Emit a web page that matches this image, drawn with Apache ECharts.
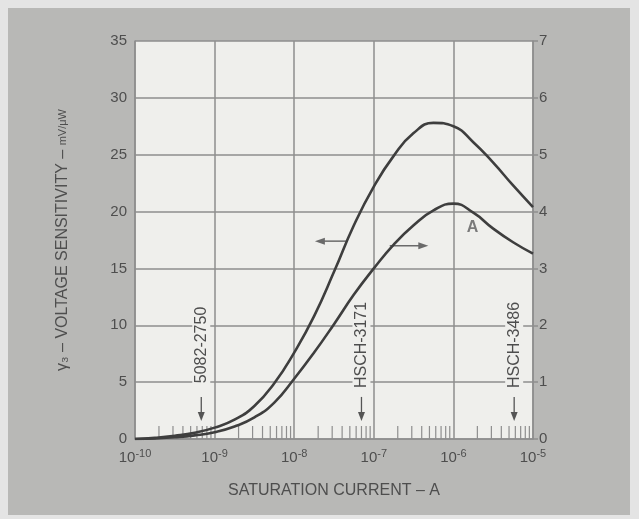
<!DOCTYPE html>
<html><head><meta charset="utf-8">
<script src="https://cdn.jsdelivr.net/npm/echarts@6/dist/echarts.min.js"></script>
<style>html,body{margin:0;padding:0;background:#e4e4e4}#c{width:639px;height:519px}</style>
</head><body><div id="c"></div>
<script>
// x positions: log10 of saturation current (A)
const logCurrent = [-10,-9.75,-9.5,-9.25,-9,-8.75,-8.5,-8.25,-8,-7.75,-7.5,-7.25,-7,-6.75,-6.5,-6.25,-6,-5.75,-5.5,-5.25,-5];
// upper curve, read on left axis (mV/μW)
const sensLeft = [0,0.1,0.28,0.55,1.0,1.7,2.9,4.9,7.6,10.8,14.7,18.8,22.2,24.9,26.9,27.8,27.5,26.1,24.3,22.3,20.4];
// curve A, read on right axis
const sensRightA = [0,0.01,0.03,0.064,0.12,0.22,0.38,0.64,1.06,1.52,2.02,2.54,3.0,3.42,3.76,4.02,4.14,3.98,3.7,3.46,3.26];
const leftTicks = [0,5,10,15,20,25,30,35];
const rightTicks = [0,1,2,3,4,5,6,7];
const decadeExps = [-10,-9,-8,-7,-6,-5];
const minorMultipliers = [2,3,4,5,6,7,8,9];
const deviceNames = ['5082-2750','HSCH-3171','HSCH-3486'];
const deviceCurrents = [6.8e-10, 7e-8, 5.8e-6];

const FONT = '"Liberation Sans", Arial, Helvetica, sans-serif';
const INK = '#4e4e4e';
const GRID = '#8e8e8e';
const PLOT_BG = '#efefec';

const upper = logCurrent.map((e,i)=>[Math.pow(10,e), sensLeft[i]]);
const lower = logCurrent.map((e,i)=>[Math.pow(10,e), sensRightA[i]]);
const minorTicks = [];
decadeExps.slice(0,-1).forEach(d=>minorMultipliers.forEach(m=>minorTicks.push([m*Math.pow(10,d),0])));

const chart = echarts.init(document.getElementById('c'), null, {renderer:'canvas'});
chart.setOption({
  backgroundColor: '#e4e4e4',
  animation: false,
  graphic: [{type:'rect', shape:{x:8,y:8,width:622,height:507}, style:{fill:'#b8b8b6'}, z:-10, silent:true}],
  grid: {left:135, right:106, top:41, bottom:80, show:true, backgroundColor:PLOT_BG, borderWidth:0},
  xAxis: {
    type:'log', logBase:10, min:1e-10, max:1e-5,
    axisLine:{show:true, lineStyle:{color:GRID, width:1.5}},
    axisTick:{show:false},
    splitLine:{show:true, lineStyle:{color:GRID, width:1.5}},
    axisLabel:{
      margin:10, color:INK, fontFamily:FONT,
      formatter: v => '{b|10}{s|' + Math.round(Math.log10(v)) + '}',
      rich:{
        b:{fontSize:15, fontFamily:FONT, color:INK, lineHeight:18},
        s:{fontSize:11, fontFamily:FONT, color:INK, lineHeight:12, padding:[0,0,8,0]}
      }
    },
    name:'SATURATION CURRENT – A', nameLocation:'middle', nameGap:44,
    nameTextStyle:{fontSize:16, fontFamily:FONT, color:INK}
  },
  yAxis: [{
    type:'value', min:0, max:35, interval:5,
    axisLine:{show:true, lineStyle:{color:GRID, width:1.5}},
    axisTick:{show:false},
    splitLine:{show:true, lineStyle:{color:GRID, width:1.5}},
    axisLabel:{margin:8, fontSize:15, fontFamily:FONT, color:INK, formatter: v => leftTicks.includes(v) ? String(v) : ''},
    name:'{n|γ₃ – VOLTAGE SENSITIVITY –} {f|mV/μW}', nameLocation:'middle', nameGap:64,
    nameTextStyle:{fontSize:16, fontFamily:FONT, color:INK,
      rich:{n:{fontSize:16, fontFamily:FONT, color:INK}, f:{fontSize:11, fontFamily:FONT, color:INK}}}
  },{
    type:'value', min:0, max:7, interval:1, position:'right',
    axisLine:{show:true, lineStyle:{color:GRID, width:1.5}},
    axisTick:{show:true, length:5, lineStyle:{color:GRID, width:1.5}},
    splitLine:{show:false},
    axisLabel:{margin:6, fontSize:15, fontFamily:FONT, color:INK, formatter: v => rightTicks.includes(v) ? String(v) : ''}
  }],
  series: [
    {type:'custom', name:'minorTicks', xAxisIndex:0, yAxisIndex:0, silent:true, z:1,
     data: minorTicks,
     renderItem:(params, api)=>{
       const p = api.coord([api.value(0), 0]);
       return {type:'line', shape:{x1:p[0], y1:p[1], x2:p[0], y2:p[1]-13}, style:{stroke:GRID, lineWidth:1.2}};
     }},
    {type:'custom', name:'devices', xAxisIndex:0, yAxisIndex:0, silent:true, z:2,
     data: deviceCurrents.map(c=>[c, 0]),
     renderItem:(params, api)=>{
       const x = api.value(0);
       const t = api.coord([x, 8.27]);
       const a = api.coord([x, 3.7]);
       const b = api.coord([x, 1.58]);
       return {type:'group', children:[
         {type:'text', x:t[0], y:t[1], rotation:Math.PI/2,
          style:{text:deviceNames[params.dataIndex], fontSize:16, fontFamily:FONT, fill:INK,
                 align:'center', verticalAlign:'middle', backgroundColor:PLOT_BG, padding:[1,3]}},
         {type:'line', shape:{x1:a[0], y1:a[1], x2:b[0], y2:b[1]-6}, style:{stroke:'#555', lineWidth:1.3}},
         {type:'polygon', shape:{points:[[b[0]-3.5,b[1]-9],[b[0]+3.5,b[1]-9],[b[0],b[1]]]}, style:{fill:'#555'}}
       ]};
     }},
    {type:'custom', name:'arrows', xAxisIndex:0, yAxisIndex:0, silent:true, z:2,
     data: [[Math.pow(10,-7.35), 17.4, Math.pow(10,-7.74), 17.4],[Math.pow(10,-6.80), 17.0, Math.pow(10,-6.315), 17.0]],
     renderItem:(params, api)=>{
       const p1 = api.coord([api.value(0), api.value(1)]);
       const p2 = api.coord([api.value(2), api.value(3)]);
       const dir = p2[0] > p1[0] ? 1 : -1;
       return {type:'group', children:[
         {type:'line', shape:{x1:p1[0], y1:p1[1], x2:p2[0]-dir*6, y2:p2[1]}, style:{stroke:'#6a6a6a', lineWidth:1.5}},
         {type:'polygon', shape:{points:[[p2[0]-dir*10,p2[1]-3.5],[p2[0]-dir*10,p2[1]+3.5],[p2[0],p2[1]]]}, style:{fill:'#6a6a6a'}}
       ]};
     }},
    {type:'custom', name:'labelA', xAxisIndex:0, yAxisIndex:0, silent:true, z:2,
     data: [[Math.pow(10,-5.76), 18.6]],
     renderItem:(params, api)=>{
       const p = api.coord([api.value(0), api.value(1)]);
       return {type:'text', x:p[0], y:p[1], style:{text:'A', fontSize:16, fontWeight:'bold', fontFamily:FONT, fill:'#7a7a7a', align:'center', verticalAlign:'middle'}};
     }},
    {type:'line', name:'left', xAxisIndex:0, yAxisIndex:0, data:upper, smooth:0.5, showSymbol:false, z:3,
     lineStyle:{color:'#3e3e3e', width:2.6}},
    {type:'line', name:'A', xAxisIndex:0, yAxisIndex:1, data:lower, smooth:0.5, showSymbol:false, z:3,
     lineStyle:{color:'#3e3e3e', width:2.6}}
  ]
});
</script></body></html>
